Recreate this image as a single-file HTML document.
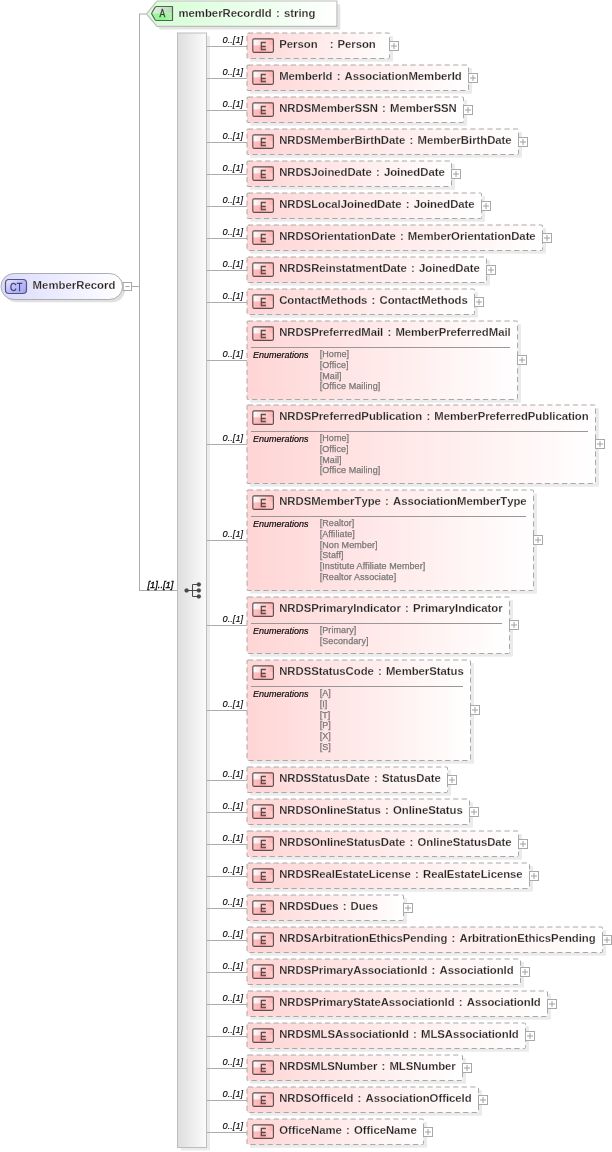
<!DOCTYPE html>
<html><head><meta charset="utf-8"><title>MemberRecord</title>
<style>
html,body{margin:0;padding:0;background:#fff;}
body{width:612px;height:1152px;overflow:hidden;}
svg{display:block;font-family:"Liberation Sans",sans-serif;}
.nm{font-size:11.33px;font-weight:bold;fill:#1c1c1c;font-kerning:none;stroke:#fff0f0;stroke-opacity:.55;stroke-width:.4;}
.mu{font-size:9.7px;font-style:italic;fill:#000;stroke:#000;stroke-width:.1;}
.en{font-size:9px;font-style:italic;fill:#000;stroke:#000;stroke-width:.15;}
.ev{font-size:9px;fill:#787878;stroke:#787878;stroke-width:.25;letter-spacing:.08px;}
.ic{font-size:11px;fill:#584848;stroke:#584848;stroke-width:.6;text-anchor:middle;}
.ln{stroke:#acacac;stroke-width:1;fill:none;shape-rendering:crispEdges;}
.bx{fill:url(#gE);stroke:#a8a8a8;stroke-width:1;stroke-dasharray:5.15 3.4;}
.s2{fill:#ebebeb;filter:url(#b2);}
.pm{fill:#fff;stroke:#a8a8a8;stroke-width:1;}
.pl{stroke:#a0a0a0;stroke-width:1;}
</style></head><body>
<svg width="612" height="1152" viewBox="0 0 612 1152">
<defs>
<linearGradient id="gE" x1="0" y1="0" x2="1" y2="0"><stop offset="0" stop-color="#ffd5d5"/><stop offset="1" stop-color="#ffffff"/></linearGradient>
<linearGradient id="gEt" x1="0" y1="0" x2="1" y2="0"><stop offset="0" stop-color="#ffffff"/><stop offset="0.4" stop-color="#ffdede"/><stop offset="1" stop-color="#ffb2b2"/></linearGradient>
<linearGradient id="gEb" x1="0" y1="0" x2="1" y2="0"><stop offset="0" stop-color="#ffc4c4"/><stop offset="0.4" stop-color="#ffb0b0"/><stop offset="1" stop-color="#ffd0d0"/></linearGradient>
<linearGradient id="gA" x1="0" y1="0" x2="1" y2="0"><stop offset="0" stop-color="#d4ffd4"/><stop offset="1" stop-color="#ffffff"/></linearGradient>
<linearGradient id="gAt" x1="0" y1="0" x2="1" y2="0"><stop offset="0" stop-color="#e4f0e4"/><stop offset="1" stop-color="#b4dcb4"/></linearGradient>
<linearGradient id="gAb" x1="0" y1="0" x2="1" y2="0"><stop offset="0" stop-color="#a8f4a8"/><stop offset="0.5" stop-color="#8cf48c"/><stop offset="1" stop-color="#b4f4b4"/></linearGradient>
<linearGradient id="gC" x1="0" y1="0" x2="1" y2="0"><stop offset="0" stop-color="#dadaff"/><stop offset="1" stop-color="#ffffff"/></linearGradient>
<linearGradient id="gCi" x1="0" y1="0" x2="1" y2="1"><stop offset="0" stop-color="#ececff"/><stop offset="0.5" stop-color="#bcbcff"/><stop offset="1" stop-color="#a0a0f8"/></linearGradient>
<linearGradient id="gS" x1="0" y1="0" x2="1" y2="0"><stop offset="0" stop-color="#dedede"/><stop offset="1" stop-color="#fbfbfb"/></linearGradient>
<filter id="b2" x="-5%" y="-20%" width="110%" height="140%"><feGaussianBlur stdDeviation="0.45"/></filter>
<filter id="b3" x="-5%" y="-20%" width="110%" height="140%"><feGaussianBlur stdDeviation="0.7"/></filter>
</defs>

<path class="ln" d="M132 286.5H139.5M139.5 14V590.5M139.5 590.5H177"/>
<path d="M139 14H147" stroke="#acacac" stroke-width="1" fill="none"/>
<rect class="s2" x="3.6" y="276.3" width="121.6" height="26" rx="13" style="fill:#e0e0e0;filter:url(#b3)"/>
<rect x="1" y="273.5" width="121.6" height="26" rx="13" fill="url(#gC)" stroke="#acacb2"/>
<rect x="5.5" y="279.5" width="21" height="14" rx="3.5" fill="url(#gCi)" stroke="#54546c" stroke-width="1.2"/>
<text class="ic" transform="translate(16.2 290.5) scale(.84 1)" style="fill:#38385a;stroke:#38385a;stroke-width:.25">CT</text>
<text class="nm" x="32.6" y="289" style="letter-spacing:0.027px;word-spacing:1.1px">MemberRecord</text>
<rect class="pm" x="123.2" y="282.5" width="8.3" height="8"/>
<path class="pl" d="M125.5 286.5H129.5"/>
<path class="s2" d="M150 17L160 4.5H340.3V29.6H160Z" style="fill:#e4e4e4"/>
<path d="M146.5 13.9L157 1H336.9V26.4H157Z" fill="url(#gA)" stroke="#bcbebc" stroke-width="1.1"/>
<path d="M151.6 13.5L155.6 6.5H172.5V13.5Z" fill="url(#gAt)"/><path d="M151.6 13.5L155.6 20.5H172.5V13.5Z" fill="url(#gAb)"/>
<path d="M172.5 6.5H156.6Q155.6 6.5 155.1 7.3L151.9 12.7Q151.4 13.5 151.9 14.3L155.1 19.7Q155.6 20.5 156.6 20.5H172.5Z" fill="none" stroke="#566056" stroke-width="1.2" stroke-linejoin="round"/>
<text class="ic" transform="translate(162.4 17.4) scale(.78 1)" style="fill:#354035;stroke:#354035;stroke-width:.3">A</text>
<text class="nm" x="178.5" y="17" style="letter-spacing:-0.001px;word-spacing:1.1px">memberRecordId : string</text>
<rect class="s2" x="181" y="36" width="29" height="1114.5" style="filter:none;fill:#ebebeb"/>
<rect x="177.5" y="33" width="29" height="1114.5" fill="url(#gS)" stroke="#bdbdbd"/>
<text class="mu" x="147.4" y="588" textLength="26" lengthAdjust="spacingAndGlyphs" style="stroke-width:.3">[1]..[1]</text>
<g stroke="#484848" fill="#484848" stroke-width="0.3"><path d="M186.5 590.5H199M192.5 584.5V596.5M192.5 584.5H199M192.5 596.5H199" fill="none" stroke-width="1"/><circle cx="186.6" cy="590.4" r="2"/><circle cx="198.8" cy="584.4" r="2"/><circle cx="198.8" cy="590.4" r="2"/><circle cx="198.8" cy="596.4" r="2"/></g>
<path class="ln" d="M207 46.5H247"/>
<text class="mu" x="222.6" y="42.9" textLength="20.5" lengthAdjust="spacingAndGlyphs">0..[1]</text>
<rect class="s2" x="250" y="36" width="143.0" height="25.7" rx="1"/>
<rect class="bx" x="247" y="33" width="142.5" height="25.5" rx="1"/>
<rect x="252.5" y="38.5" width="21" height="7" fill="url(#gEt)"/><rect x="252.5" y="45.5" width="21" height="7" fill="url(#gEb)"/>
<rect x="252.8" y="38.8" width="20.6" height="13.5" rx="1.2" fill="none" stroke="#5e4e4e" stroke-width="1.15"/>
<text class="ic" transform="translate(263.3 49.5) scale(.8 1)">E</text>
<text class="nm" y="48"><tspan x="279.2">Person </tspan><tspan x="329.7">: </tspan><tspan x="337.4">Person</tspan></text>
<rect class="pm" x="389.5" y="41.5" width="9" height="9"/>
<path class="pl" d="M391 46H397M394 43V49"/>
<path class="ln" d="M207 78.5H247"/>
<text class="mu" x="222.6" y="74.9" textLength="20.5" lengthAdjust="spacingAndGlyphs">0..[1]</text>
<rect class="s2" x="250" y="68" width="222.0" height="25.7" rx="1"/>
<rect class="bx" x="247" y="65" width="221.5" height="25.5" rx="1"/>
<rect x="252.5" y="70.5" width="21" height="7" fill="url(#gEt)"/><rect x="252.5" y="77.5" width="21" height="7" fill="url(#gEb)"/>
<rect x="252.8" y="70.8" width="20.6" height="13.5" rx="1.2" fill="none" stroke="#5e4e4e" stroke-width="1.15"/>
<text class="ic" transform="translate(263.3 81.5) scale(.8 1)">E</text>
<text class="nm" x="279.2" y="80" style="letter-spacing:-0.034px;word-spacing:1.1px">MemberId : AssociationMemberId</text>
<rect class="pm" x="468.5" y="73.5" width="9" height="9"/>
<path class="pl" d="M470 78H476M473 75V81"/>
<path class="ln" d="M207 110.5H247"/>
<text class="mu" x="222.6" y="106.9" textLength="20.5" lengthAdjust="spacingAndGlyphs">0..[1]</text>
<rect class="s2" x="250" y="100" width="217.0" height="25.7" rx="1"/>
<rect class="bx" x="247" y="97" width="216.5" height="25.5" rx="1"/>
<rect x="252.5" y="102.5" width="21" height="7" fill="url(#gEt)"/><rect x="252.5" y="109.5" width="21" height="7" fill="url(#gEb)"/>
<rect x="252.8" y="102.8" width="20.6" height="13.5" rx="1.2" fill="none" stroke="#5e4e4e" stroke-width="1.15"/>
<text class="ic" transform="translate(263.3 113.5) scale(.8 1)">E</text>
<text class="nm" x="279.2" y="112" style="letter-spacing:-0.014px;word-spacing:1.1px">NRDSMemberSSN : MemberSSN</text>
<rect class="pm" x="463.5" y="105.5" width="9" height="9"/>
<path class="pl" d="M465 110H471M468 107V113"/>
<path class="ln" d="M207 142.5H247"/>
<text class="mu" x="222.6" y="138.9" textLength="20.5" lengthAdjust="spacingAndGlyphs">0..[1]</text>
<rect class="s2" x="250" y="132" width="272.0" height="25.7" rx="1"/>
<rect class="bx" x="247" y="129" width="271.5" height="25.5" rx="1"/>
<rect x="252.5" y="134.5" width="21" height="7" fill="url(#gEt)"/><rect x="252.5" y="141.5" width="21" height="7" fill="url(#gEb)"/>
<rect x="252.8" y="134.8" width="20.6" height="13.5" rx="1.2" fill="none" stroke="#5e4e4e" stroke-width="1.15"/>
<text class="ic" transform="translate(263.3 145.5) scale(.8 1)">E</text>
<text class="nm" x="279.2" y="144" style="letter-spacing:-0.020px;word-spacing:1.1px">NRDSMemberBirthDate : MemberBirthDate</text>
<rect class="pm" x="518.5" y="137.5" width="9" height="9"/>
<path class="pl" d="M520 142H526M523 139V145"/>
<path class="ln" d="M207 174.5H247"/>
<text class="mu" x="222.6" y="170.9" textLength="20.5" lengthAdjust="spacingAndGlyphs">0..[1]</text>
<rect class="s2" x="250" y="164" width="205.0" height="25.7" rx="1"/>
<rect class="bx" x="247" y="161" width="204.5" height="25.5" rx="1"/>
<rect x="252.5" y="166.5" width="21" height="7" fill="url(#gEt)"/><rect x="252.5" y="173.5" width="21" height="7" fill="url(#gEb)"/>
<rect x="252.8" y="166.8" width="20.6" height="13.5" rx="1.2" fill="none" stroke="#5e4e4e" stroke-width="1.15"/>
<text class="ic" transform="translate(263.3 177.5) scale(.8 1)">E</text>
<text class="nm" x="279.2" y="176" style="letter-spacing:-0.038px;word-spacing:1.1px">NRDSJoinedDate : JoinedDate</text>
<rect class="pm" x="451.5" y="169.5" width="9" height="9"/>
<path class="pl" d="M453 174H459M456 171V177"/>
<path class="ln" d="M207 206.5H247"/>
<text class="mu" x="222.6" y="202.9" textLength="20.5" lengthAdjust="spacingAndGlyphs">0..[1]</text>
<rect class="s2" x="250" y="196" width="235.0" height="25.7" rx="1"/>
<rect class="bx" x="247" y="193" width="234.5" height="25.5" rx="1"/>
<rect x="252.5" y="198.5" width="21" height="7" fill="url(#gEt)"/><rect x="252.5" y="205.5" width="21" height="7" fill="url(#gEb)"/>
<rect x="252.8" y="198.8" width="20.6" height="13.5" rx="1.2" fill="none" stroke="#5e4e4e" stroke-width="1.15"/>
<text class="ic" transform="translate(263.3 209.5) scale(.8 1)">E</text>
<text class="nm" x="279.2" y="208" style="letter-spacing:-0.019px;word-spacing:1.1px">NRDSLocalJoinedDate : JoinedDate</text>
<rect class="pm" x="481.5" y="201.5" width="9" height="9"/>
<path class="pl" d="M483 206H489M486 203V209"/>
<path class="ln" d="M207 238.5H247"/>
<text class="mu" x="222.6" y="234.9" textLength="20.5" lengthAdjust="spacingAndGlyphs">0..[1]</text>
<rect class="s2" x="250" y="228" width="296.0" height="25.7" rx="1"/>
<rect class="bx" x="247" y="225" width="295.5" height="25.5" rx="1"/>
<rect x="252.5" y="230.5" width="21" height="7" fill="url(#gEt)"/><rect x="252.5" y="237.5" width="21" height="7" fill="url(#gEb)"/>
<rect x="252.8" y="230.8" width="20.6" height="13.5" rx="1.2" fill="none" stroke="#5e4e4e" stroke-width="1.15"/>
<text class="ic" transform="translate(263.3 241.5) scale(.8 1)">E</text>
<text class="nm" x="279.2" y="240" style="letter-spacing:-0.030px;word-spacing:1.1px">NRDSOrientationDate : MemberOrientationDate</text>
<rect class="pm" x="542.5" y="233.5" width="9" height="9"/>
<path class="pl" d="M544 238H550M547 235V241"/>
<path class="ln" d="M207 270.5H247"/>
<text class="mu" x="222.6" y="266.9" textLength="20.5" lengthAdjust="spacingAndGlyphs">0..[1]</text>
<rect class="s2" x="250" y="260" width="240.0" height="25.7" rx="1"/>
<rect class="bx" x="247" y="257" width="239.5" height="25.5" rx="1"/>
<rect x="252.5" y="262.5" width="21" height="7" fill="url(#gEt)"/><rect x="252.5" y="269.5" width="21" height="7" fill="url(#gEb)"/>
<rect x="252.8" y="262.8" width="20.6" height="13.5" rx="1.2" fill="none" stroke="#5e4e4e" stroke-width="1.15"/>
<text class="ic" transform="translate(263.3 273.5) scale(.8 1)">E</text>
<text class="nm" x="279.2" y="272" style="letter-spacing:-0.038px;word-spacing:1.1px">NRDSReinstatmentDate : JoinedDate</text>
<rect class="pm" x="486.5" y="265.5" width="9" height="9"/>
<path class="pl" d="M488 270H494M491 267V273"/>
<path class="ln" d="M207 302.5H247"/>
<text class="mu" x="222.6" y="298.9" textLength="20.5" lengthAdjust="spacingAndGlyphs">0..[1]</text>
<rect class="s2" x="250" y="292" width="228.0" height="25.7" rx="1"/>
<rect class="bx" x="247" y="289" width="227.5" height="25.5" rx="1"/>
<rect x="252.5" y="294.5" width="21" height="7" fill="url(#gEt)"/><rect x="252.5" y="301.5" width="21" height="7" fill="url(#gEb)"/>
<rect x="252.8" y="294.8" width="20.6" height="13.5" rx="1.2" fill="none" stroke="#5e4e4e" stroke-width="1.15"/>
<text class="ic" transform="translate(263.3 305.5) scale(.8 1)">E</text>
<text class="nm" x="279.2" y="304" style="letter-spacing:-0.041px;word-spacing:1.1px">ContactMethods : ContactMethods</text>
<rect class="pm" x="474.5" y="297.5" width="9" height="9"/>
<path class="pl" d="M476 302H482M479 299V305"/>
<path class="ln" d="M207 360.5H247"/>
<text class="mu" x="222.6" y="356.9" textLength="20.5" lengthAdjust="spacingAndGlyphs">0..[1]</text>
<rect class="s2" x="250" y="324" width="271.0" height="78.7" rx="1"/>
<rect class="bx" x="247" y="321" width="270.5" height="78.5" rx="1"/>
<rect x="252.5" y="326.5" width="21" height="7" fill="url(#gEt)"/><rect x="252.5" y="333.5" width="21" height="7" fill="url(#gEb)"/>
<rect x="252.8" y="326.8" width="20.6" height="13.5" rx="1.2" fill="none" stroke="#5e4e4e" stroke-width="1.15"/>
<text class="ic" transform="translate(263.3 337.5) scale(.8 1)">E</text>
<text class="nm" x="279.2" y="336" style="letter-spacing:-0.029px;word-spacing:1.1px">NRDSPreferredMail : MemberPreferredMail</text>
<path class="ln" d="M251 347.5H510" style="stroke:#989898"/>
<text class="en" x="252.9" y="357.5">Enumerations</text>
<text class="ev" x="319.7" y="357.2">[Home]</text>
<text class="ev" x="319.7" y="367.8">[Office]</text>
<text class="ev" x="319.7" y="378.5">[Mail]</text>
<text class="ev" x="319.7" y="389.1">[Office Mailing]</text>
<rect class="pm" x="517.5" y="355.5" width="9" height="9"/>
<path class="pl" d="M519 360H525M522 357V363"/>
<path class="ln" d="M207 444.5H247"/>
<text class="mu" x="222.6" y="440.9" textLength="20.5" lengthAdjust="spacingAndGlyphs">0..[1]</text>
<rect class="s2" x="250" y="408" width="349.0" height="78.7" rx="1"/>
<rect class="bx" x="247" y="405" width="348.5" height="78.5" rx="1"/>
<rect x="252.5" y="410.5" width="21" height="7" fill="url(#gEt)"/><rect x="252.5" y="417.5" width="21" height="7" fill="url(#gEb)"/>
<rect x="252.8" y="410.8" width="20.6" height="13.5" rx="1.2" fill="none" stroke="#5e4e4e" stroke-width="1.15"/>
<text class="ic" transform="translate(263.3 421.5) scale(.8 1)">E</text>
<text class="nm" x="279.2" y="420" style="letter-spacing:-0.023px;word-spacing:1.1px">NRDSPreferredPublication : MemberPreferredPublication</text>
<path class="ln" d="M251 431.5H588" style="stroke:#989898"/>
<text class="en" x="252.9" y="441.5">Enumerations</text>
<text class="ev" x="319.7" y="441.2">[Home]</text>
<text class="ev" x="319.7" y="451.8">[Office]</text>
<text class="ev" x="319.7" y="462.5">[Mail]</text>
<text class="ev" x="319.7" y="473.1">[Office Mailing]</text>
<rect class="pm" x="595.5" y="439.5" width="9" height="9"/>
<path class="pl" d="M597 444H603M600 441V447"/>
<path class="ln" d="M207 540.5H247"/>
<text class="mu" x="222.6" y="536.9" textLength="20.5" lengthAdjust="spacingAndGlyphs">0..[1]</text>
<rect class="s2" x="250" y="493" width="287.0" height="100.7" rx="1"/>
<rect class="bx" x="247" y="490" width="286.5" height="100.5" rx="1"/>
<rect x="252.5" y="495.5" width="21" height="7" fill="url(#gEt)"/><rect x="252.5" y="502.5" width="21" height="7" fill="url(#gEb)"/>
<rect x="252.8" y="495.8" width="20.6" height="13.5" rx="1.2" fill="none" stroke="#5e4e4e" stroke-width="1.15"/>
<text class="ic" transform="translate(263.3 506.5) scale(.8 1)">E</text>
<text class="nm" x="279.2" y="505" style="letter-spacing:-0.023px;word-spacing:1.1px">NRDSMemberType : AssociationMemberType</text>
<path class="ln" d="M251 516.5H526" style="stroke:#989898"/>
<text class="en" x="252.9" y="526.5">Enumerations</text>
<text class="ev" x="319.7" y="526.2">[Realtor]</text>
<text class="ev" x="319.7" y="536.9">[Affiliate]</text>
<text class="ev" x="319.7" y="547.5">[Non Member]</text>
<text class="ev" x="319.7" y="558.2">[Staff]</text>
<text class="ev" x="319.7" y="568.8">[Institute Affiliate Member]</text>
<text class="ev" x="319.7" y="579.5">[Realtor Associate]</text>
<rect class="pm" x="533.5" y="535.5" width="9" height="9"/>
<path class="pl" d="M535 540H541M538 537V543"/>
<path class="ln" d="M207 625.5H247"/>
<text class="mu" x="222.6" y="621.9" textLength="20.5" lengthAdjust="spacingAndGlyphs">0..[1]</text>
<rect class="s2" x="250" y="600" width="263.0" height="56.7" rx="1"/>
<rect class="bx" x="247" y="597" width="262.5" height="56.5" rx="1"/>
<rect x="252.5" y="602.5" width="21" height="7" fill="url(#gEt)"/><rect x="252.5" y="609.5" width="21" height="7" fill="url(#gEb)"/>
<rect x="252.8" y="602.8" width="20.6" height="13.5" rx="1.2" fill="none" stroke="#5e4e4e" stroke-width="1.15"/>
<text class="ic" transform="translate(263.3 613.5) scale(.8 1)">E</text>
<text class="nm" x="279.2" y="612" style="letter-spacing:-0.025px;word-spacing:1.1px">NRDSPrimaryIndicator : PrimaryIndicator</text>
<path class="ln" d="M251 623.5H502" style="stroke:#989898"/>
<text class="en" x="252.9" y="633.5">Enumerations</text>
<text class="ev" x="319.7" y="633.2">[Primary]</text>
<text class="ev" x="319.7" y="643.9">[Secondary]</text>
<rect class="pm" x="509.5" y="620.5" width="9" height="9"/>
<path class="pl" d="M511 625H517M514 622V628"/>
<path class="ln" d="M207 710.5H247"/>
<text class="mu" x="222.6" y="706.9" textLength="20.5" lengthAdjust="spacingAndGlyphs">0..[1]</text>
<rect class="s2" x="250" y="663" width="224.0" height="100.7" rx="1"/>
<rect class="bx" x="247" y="660" width="223.5" height="100.5" rx="1"/>
<rect x="252.5" y="665.5" width="21" height="7" fill="url(#gEt)"/><rect x="252.5" y="672.5" width="21" height="7" fill="url(#gEb)"/>
<rect x="252.8" y="665.8" width="20.6" height="13.5" rx="1.2" fill="none" stroke="#5e4e4e" stroke-width="1.15"/>
<text class="ic" transform="translate(263.3 676.5) scale(.8 1)">E</text>
<text class="nm" x="279.2" y="675" style="letter-spacing:-0.031px;word-spacing:1.1px">NRDSStatusCode : MemberStatus</text>
<path class="ln" d="M251 686.5H463" style="stroke:#989898"/>
<text class="en" x="252.9" y="696.5">Enumerations</text>
<text class="ev" x="319.7" y="696.2">[A]</text>
<text class="ev" x="319.7" y="706.9">[I]</text>
<text class="ev" x="319.7" y="717.5">[T]</text>
<text class="ev" x="319.7" y="728.2">[P]</text>
<text class="ev" x="319.7" y="738.8">[X]</text>
<text class="ev" x="319.7" y="749.5">[S]</text>
<rect class="pm" x="470.5" y="705.5" width="9" height="9"/>
<path class="pl" d="M472 710H478M475 707V713"/>
<path class="ln" d="M207 780.5H247"/>
<text class="mu" x="222.6" y="776.9" textLength="20.5" lengthAdjust="spacingAndGlyphs">0..[1]</text>
<rect class="s2" x="250" y="770" width="201.0" height="25.7" rx="1"/>
<rect class="bx" x="247" y="767" width="200.5" height="25.5" rx="1"/>
<rect x="252.5" y="772.5" width="21" height="7" fill="url(#gEt)"/><rect x="252.5" y="779.5" width="21" height="7" fill="url(#gEb)"/>
<rect x="252.8" y="772.8" width="20.6" height="13.5" rx="1.2" fill="none" stroke="#5e4e4e" stroke-width="1.15"/>
<text class="ic" transform="translate(263.3 783.5) scale(.8 1)">E</text>
<text class="nm" x="279.2" y="782" style="letter-spacing:-0.046px;word-spacing:1.1px">NRDSStatusDate : StatusDate</text>
<rect class="pm" x="447.5" y="775.5" width="9" height="9"/>
<path class="pl" d="M449 780H455M452 777V783"/>
<path class="ln" d="M207 812.5H247"/>
<text class="mu" x="222.6" y="808.9" textLength="20.5" lengthAdjust="spacingAndGlyphs">0..[1]</text>
<rect class="s2" x="250" y="802" width="223.0" height="25.7" rx="1"/>
<rect class="bx" x="247" y="799" width="222.5" height="25.5" rx="1"/>
<rect x="252.5" y="804.5" width="21" height="7" fill="url(#gEt)"/><rect x="252.5" y="811.5" width="21" height="7" fill="url(#gEb)"/>
<rect x="252.8" y="804.8" width="20.6" height="13.5" rx="1.2" fill="none" stroke="#5e4e4e" stroke-width="1.15"/>
<text class="ic" transform="translate(263.3 815.5) scale(.8 1)">E</text>
<text class="nm" x="279.2" y="814" style="letter-spacing:-0.020px;word-spacing:1.1px">NRDSOnlineStatus : OnlineStatus</text>
<rect class="pm" x="469.5" y="807.5" width="9" height="9"/>
<path class="pl" d="M471 812H477M474 809V815"/>
<path class="ln" d="M207 844.5H247"/>
<text class="mu" x="222.6" y="840.9" textLength="20.5" lengthAdjust="spacingAndGlyphs">0..[1]</text>
<rect class="s2" x="250" y="834" width="272.0" height="25.7" rx="1"/>
<rect class="bx" x="247" y="831" width="271.5" height="25.5" rx="1"/>
<rect x="252.5" y="836.5" width="21" height="7" fill="url(#gEt)"/><rect x="252.5" y="843.5" width="21" height="7" fill="url(#gEb)"/>
<rect x="252.8" y="836.8" width="20.6" height="13.5" rx="1.2" fill="none" stroke="#5e4e4e" stroke-width="1.15"/>
<text class="ic" transform="translate(263.3 847.5) scale(.8 1)">E</text>
<text class="nm" x="279.2" y="846" style="letter-spacing:-0.019px;word-spacing:1.1px">NRDSOnlineStatusDate : OnlineStatusDate</text>
<rect class="pm" x="518.5" y="839.5" width="9" height="9"/>
<path class="pl" d="M520 844H526M523 841V847"/>
<path class="ln" d="M207 876.5H247"/>
<text class="mu" x="222.6" y="872.9" textLength="20.5" lengthAdjust="spacingAndGlyphs">0..[1]</text>
<rect class="s2" x="250" y="866" width="283.0" height="25.7" rx="1"/>
<rect class="bx" x="247" y="863" width="282.5" height="25.5" rx="1"/>
<rect x="252.5" y="868.5" width="21" height="7" fill="url(#gEt)"/><rect x="252.5" y="875.5" width="21" height="7" fill="url(#gEb)"/>
<rect x="252.8" y="868.8" width="20.6" height="13.5" rx="1.2" fill="none" stroke="#5e4e4e" stroke-width="1.15"/>
<text class="ic" transform="translate(263.3 879.5) scale(.8 1)">E</text>
<text class="nm" x="279.2" y="878" style="letter-spacing:-0.028px;word-spacing:1.1px">NRDSRealEstateLicense : RealEstateLicense</text>
<rect class="pm" x="529.5" y="871.5" width="9" height="9"/>
<path class="pl" d="M531 876H537M534 873V879"/>
<path class="ln" d="M207 908.5H247"/>
<text class="mu" x="222.6" y="904.9" textLength="20.5" lengthAdjust="spacingAndGlyphs">0..[1]</text>
<rect class="s2" x="250" y="898" width="157.0" height="25.7" rx="1"/>
<rect class="bx" x="247" y="895" width="156.5" height="25.5" rx="1"/>
<rect x="252.5" y="900.5" width="21" height="7" fill="url(#gEt)"/><rect x="252.5" y="907.5" width="21" height="7" fill="url(#gEb)"/>
<rect x="252.8" y="900.8" width="20.6" height="13.5" rx="1.2" fill="none" stroke="#5e4e4e" stroke-width="1.15"/>
<text class="ic" transform="translate(263.3 911.5) scale(.8 1)">E</text>
<text class="nm" x="279.2" y="910" style="letter-spacing:-0.059px;word-spacing:1.1px">NRDSDues : Dues</text>
<rect class="pm" x="403.5" y="903.5" width="9" height="9"/>
<path class="pl" d="M405 908H411M408 905V911"/>
<path class="ln" d="M207 940.5H247"/>
<text class="mu" x="222.6" y="936.9" textLength="20.5" lengthAdjust="spacingAndGlyphs">0..[1]</text>
<rect class="s2" x="250" y="930" width="356.0" height="25.7" rx="1"/>
<rect class="bx" x="247" y="927" width="355.5" height="25.5" rx="1"/>
<rect x="252.5" y="932.5" width="21" height="7" fill="url(#gEt)"/><rect x="252.5" y="939.5" width="21" height="7" fill="url(#gEb)"/>
<rect x="252.8" y="932.8" width="20.6" height="13.5" rx="1.2" fill="none" stroke="#5e4e4e" stroke-width="1.15"/>
<text class="ic" transform="translate(263.3 943.5) scale(.8 1)">E</text>
<text class="nm" x="279.2" y="942" style="letter-spacing:-0.019px;word-spacing:1.1px">NRDSArbitrationEthicsPending : ArbitrationEthicsPending</text>
<rect class="pm" x="602.5" y="935.5" width="9" height="9"/>
<path class="pl" d="M604 940H610M607 937V943"/>
<path class="ln" d="M207 972.5H247"/>
<text class="mu" x="222.6" y="968.9" textLength="20.5" lengthAdjust="spacingAndGlyphs">0..[1]</text>
<rect class="s2" x="250" y="962" width="274.0" height="25.7" rx="1"/>
<rect class="bx" x="247" y="959" width="273.5" height="25.5" rx="1"/>
<rect x="252.5" y="964.5" width="21" height="7" fill="url(#gEt)"/><rect x="252.5" y="971.5" width="21" height="7" fill="url(#gEb)"/>
<rect x="252.8" y="964.8" width="20.6" height="13.5" rx="1.2" fill="none" stroke="#5e4e4e" stroke-width="1.15"/>
<text class="ic" transform="translate(263.3 975.5) scale(.8 1)">E</text>
<text class="nm" x="279.2" y="974" style="letter-spacing:-0.016px;word-spacing:1.1px">NRDSPrimaryAssociationId : AssociationId</text>
<rect class="pm" x="520.5" y="967.5" width="9" height="9"/>
<path class="pl" d="M522 972H528M525 969V975"/>
<path class="ln" d="M207 1004.5H247"/>
<text class="mu" x="222.6" y="1000.9" textLength="20.5" lengthAdjust="spacingAndGlyphs">0..[1]</text>
<rect class="s2" x="250" y="994" width="301.0" height="25.7" rx="1"/>
<rect class="bx" x="247" y="991" width="300.5" height="25.5" rx="1"/>
<rect x="252.5" y="996.5" width="21" height="7" fill="url(#gEt)"/><rect x="252.5" y="1003.5" width="21" height="7" fill="url(#gEb)"/>
<rect x="252.8" y="996.8" width="20.6" height="13.5" rx="1.2" fill="none" stroke="#5e4e4e" stroke-width="1.15"/>
<text class="ic" transform="translate(263.3 1007.5) scale(.8 1)">E</text>
<text class="nm" x="279.2" y="1006" style="letter-spacing:-0.030px;word-spacing:1.1px">NRDSPrimaryStateAssociationId : AssociationId</text>
<rect class="pm" x="547.5" y="999.5" width="9" height="9"/>
<path class="pl" d="M549 1004H555M552 1001V1007"/>
<path class="ln" d="M207 1036.5H247"/>
<text class="mu" x="222.6" y="1032.9" textLength="20.5" lengthAdjust="spacingAndGlyphs">0..[1]</text>
<rect class="s2" x="250" y="1026" width="279.0" height="25.7" rx="1"/>
<rect class="bx" x="247" y="1023" width="278.5" height="25.5" rx="1"/>
<rect x="252.5" y="1028.5" width="21" height="7" fill="url(#gEt)"/><rect x="252.5" y="1035.5" width="21" height="7" fill="url(#gEb)"/>
<rect x="252.8" y="1028.8" width="20.6" height="13.5" rx="1.2" fill="none" stroke="#5e4e4e" stroke-width="1.15"/>
<text class="ic" transform="translate(263.3 1039.5) scale(.8 1)">E</text>
<text class="nm" x="279.2" y="1038" style="letter-spacing:-0.033px;word-spacing:1.1px">NRDSMLSAssociationId : MLSAssociationId</text>
<rect class="pm" x="525.5" y="1031.5" width="9" height="9"/>
<path class="pl" d="M527 1036H533M530 1033V1039"/>
<path class="ln" d="M207 1068.5H247"/>
<text class="mu" x="222.6" y="1064.9" textLength="20.5" lengthAdjust="spacingAndGlyphs">0..[1]</text>
<rect class="s2" x="250" y="1058" width="216.0" height="25.7" rx="1"/>
<rect class="bx" x="247" y="1055" width="215.5" height="25.5" rx="1"/>
<rect x="252.5" y="1060.5" width="21" height="7" fill="url(#gEt)"/><rect x="252.5" y="1067.5" width="21" height="7" fill="url(#gEb)"/>
<rect x="252.8" y="1060.8" width="20.6" height="13.5" rx="1.2" fill="none" stroke="#5e4e4e" stroke-width="1.15"/>
<text class="ic" transform="translate(263.3 1071.5) scale(.8 1)">E</text>
<text class="nm" x="279.2" y="1070" style="letter-spacing:-0.053px;word-spacing:1.1px">NRDSMLSNumber : MLSNumber</text>
<rect class="pm" x="462.5" y="1063.5" width="9" height="9"/>
<path class="pl" d="M464 1068H470M467 1065V1071"/>
<path class="ln" d="M207 1100.5H247"/>
<text class="mu" x="222.6" y="1096.9" textLength="20.5" lengthAdjust="spacingAndGlyphs">0..[1]</text>
<rect class="s2" x="250" y="1090" width="232.0" height="25.7" rx="1"/>
<rect class="bx" x="247" y="1087" width="231.5" height="25.5" rx="1"/>
<rect x="252.5" y="1092.5" width="21" height="7" fill="url(#gEt)"/><rect x="252.5" y="1099.5" width="21" height="7" fill="url(#gEb)"/>
<rect x="252.8" y="1092.8" width="20.6" height="13.5" rx="1.2" fill="none" stroke="#5e4e4e" stroke-width="1.15"/>
<text class="ic" transform="translate(263.3 1103.5) scale(.8 1)">E</text>
<text class="nm" x="279.2" y="1102" style="letter-spacing:-0.013px;word-spacing:1.1px">NRDSOfficeId : AssociationOfficeId</text>
<rect class="pm" x="478.5" y="1095.5" width="9" height="9"/>
<path class="pl" d="M480 1100H486M483 1097V1103"/>
<path class="ln" d="M207 1132.5H247"/>
<text class="mu" x="222.6" y="1128.9" textLength="20.5" lengthAdjust="spacingAndGlyphs">0..[1]</text>
<rect class="s2" x="250" y="1122" width="177.0" height="25.7" rx="1"/>
<rect class="bx" x="247" y="1119" width="176.5" height="25.5" rx="1"/>
<rect x="252.5" y="1124.5" width="21" height="7" fill="url(#gEt)"/><rect x="252.5" y="1131.5" width="21" height="7" fill="url(#gEb)"/>
<rect x="252.8" y="1124.8" width="20.6" height="13.5" rx="1.2" fill="none" stroke="#5e4e4e" stroke-width="1.15"/>
<text class="ic" transform="translate(263.3 1135.5) scale(.8 1)">E</text>
<text class="nm" x="279.2" y="1134" style="letter-spacing:-0.031px;word-spacing:1.1px">OfficeName : OfficeName</text>
<rect class="pm" x="423.5" y="1127.5" width="9" height="9"/>
<path class="pl" d="M425 1132H431M428 1129V1135"/>
</svg></body></html>
